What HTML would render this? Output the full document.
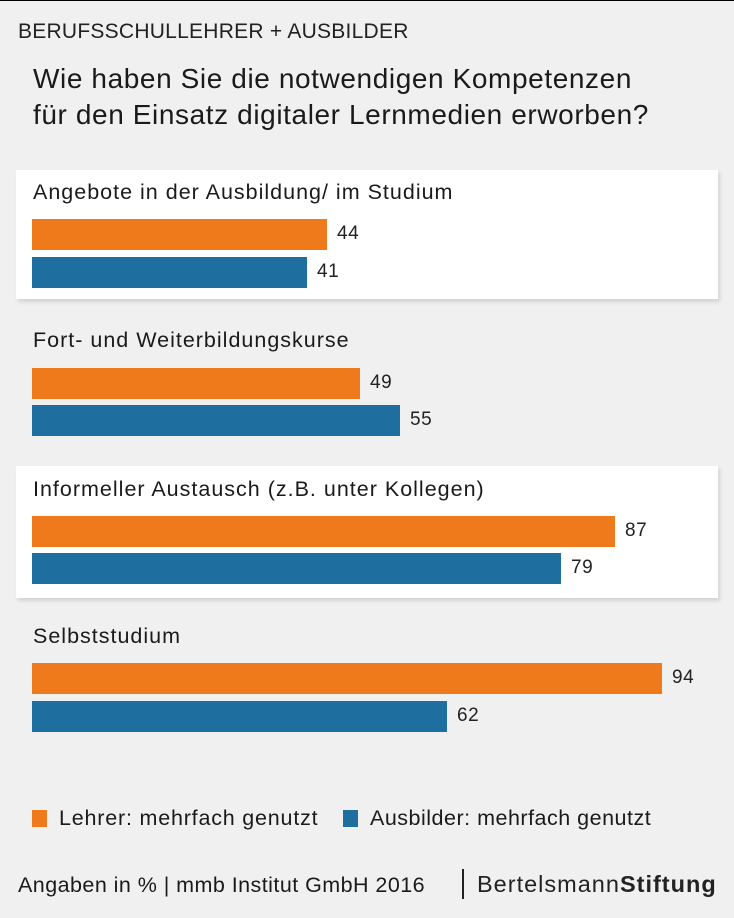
<!DOCTYPE html>
<html><head><meta charset="utf-8"><style>
*{margin:0;padding:0;box-sizing:border-box}
body{width:734px;height:918px;background:#f0f0f0;position:relative;overflow:hidden;font-family:"Liberation Sans",sans-serif;color:#1a1a1a;border-top:1px solid #000}
.a{position:absolute;white-space:nowrap;line-height:1.15}
.p{position:absolute;left:16px;width:702px;background:#fff;box-shadow:2px 3px 4px rgba(0,0,0,0.12)}
.o{position:absolute;left:32px;height:31px;background:#ef7a1c}
.b{position:absolute;left:32px;height:31px;background:#1e6f9f}
.t{font-size:21.5px;letter-spacing:1px}
.v{font-size:19px;color:#222;letter-spacing:0.5px}
</style></head><body>
<div class="a" style="left:18px;top:19px;font-size:21px;color:#222;letter-spacing:0.25px">BERUFSSCHULLEHRER + AUSBILDER</div>
<div class="a" style="left:33px;top:60px;font-size:28px;line-height:36px;letter-spacing:0.6px">Wie haben Sie die notwendigen Kompetenzen<br>für den Einsatz digitaler Lernmedien erworben?</div>

<div class="p" style="top:169px;height:129px"></div>
<div class="p" style="top:465px;height:132px"></div>

<div class="a t" style="left:33px;top:179px">Angebote in der Ausbildung/ im Studium</div>
<div class="o" style="top:218px;width:295px"></div><div class="a v" style="left:337px;top:222px">44</div>
<div class="b" style="top:256px;width:275px"></div><div class="a v" style="left:317px;top:260px">41</div>

<div class="a t" style="left:33px;top:327px">Fort- und Weiterbildungskurse</div>
<div class="o" style="top:367px;width:328px"></div><div class="a v" style="left:370px;top:371px">49</div>
<div class="b" style="top:404px;width:368px"></div><div class="a v" style="left:410px;top:408px">55</div>

<div class="a t" style="left:33px;top:476px">Informeller Austausch (z.B. unter Kollegen)</div>
<div class="o" style="top:515px;width:583px"></div><div class="a v" style="left:625px;top:519px">87</div>
<div class="b" style="top:552px;width:529px"></div><div class="a v" style="left:571px;top:556px">79</div>

<div class="a t" style="left:33px;top:623px">Selbststudium</div>
<div class="o" style="top:662px;width:630px"></div><div class="a v" style="left:672px;top:666px">94</div>
<div class="b" style="top:700px;width:415px"></div><div class="a v" style="left:457px;top:704px">62</div>

<div style="position:absolute;left:32px;top:809px;width:15px;height:17px;background:#ef7a1c"></div>
<div class="a" style="left:59px;top:805px;font-size:21.5px;letter-spacing:0.8px">Lehrer: mehrfach genutzt</div>
<div style="position:absolute;left:343px;top:809px;width:15px;height:17px;background:#1e6f9f"></div>
<div class="a" style="left:370px;top:805px;font-size:21.5px;letter-spacing:0.5px">Ausbilder: mehrfach genutzt</div>

<div class="a" style="left:18px;top:872px;font-size:21.5px;letter-spacing:0.45px">Angaben in % | mmb Institut GmbH 2016</div>
<div style="position:absolute;left:462px;top:868px;width:2px;height:30px;background:#222"></div>
<div class="a" style="left:477px;top:870px;font-size:23.5px;color:#222;letter-spacing:1px">Bertelsmann<b>Stiftung</b></div>
</body></html>
